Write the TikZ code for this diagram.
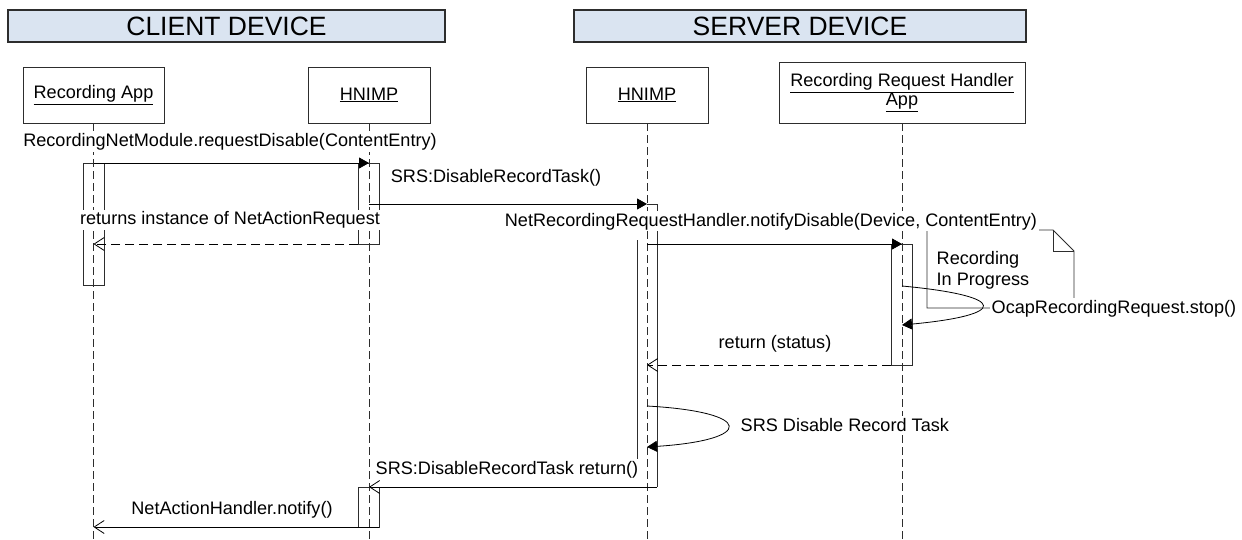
\documentclass[tikz,border=0pt]{standalone}
\usepackage{fontspec}
\setmainfont{Liberation Sans}
\usetikzlibrary{arrows.meta}
\definecolor{hdrfill}{RGB}{218,228,241}
\definecolor{edge}{RGB}{45,45,45}

\begin{document}
\begin{tikzpicture}[x=1pt,y=-1pt,
  every node/.style={font=\fontsize{18.1}{20.5}\selectfont, inner sep=1.5pt},
  header/.style={draw=edge, line width=1.2pt, fill=hdrfill, minimum height=32pt,
    font=\fontsize{26.5}{29}\selectfont},
  objbox/.style={draw=edge, line width=0.8pt, fill=white, align=center},
  lifeline/.style={draw=edge, line width=0.8pt, dash pattern=on 8pt off 4pt},
  actbar/.style={draw=edge, line width=0.8pt},
  call/.style={draw=black, line width=0.8pt, -{Triangle[length=10pt,width=11pt]}},
  reply/.style={draw=black, line width=0.8pt, dash pattern=on 9pt off 5pt,
    -{Straight Barb[length=10pt,width=13pt]}},
  sendback/.style={draw=black, line width=0.8pt, -{Straight Barb[length=10pt,width=13pt]}},
  msglabel/.style={fill=white, anchor=base},
  notebox/.style={draw=edge, line width=0.8pt},
]
\useasboundingbox (0,0) rectangle (1242,540);

% device headers
\node[header, minimum width=437pt] (client) at (226.5,26) {CLIENT DEVICE};
\node[header, minimum width=452pt] (server) at (800,26) {SERVER DEVICE};

% participants
\node[objbox, minimum width=141pt, minimum height=56pt] (ra) at (93.5,95) {\underline{Recording App}};
\node[objbox, minimum width=122pt, minimum height=56pt] (hc) at (369,95) {\underline{HNIMP}};
\node[objbox, minimum width=122pt, minimum height=56pt] (hs) at (647,95) {\underline{HNIMP}};
\node[objbox, minimum width=246pt, minimum height=61pt] (rh) at (902,92.5)
  {\underline{Recording Request Handler}\\[-1.5pt]\underline{App}};

% lifeline ends
\coordinate (raEnd) at (ra.south |- 0,540);
\coordinate (hcEnd) at (hc.south |- 0,540);
\coordinate (hsEnd) at (hs.south |- 0,540);
\coordinate (rhEnd) at (rh.south |- 0,540);
\draw[lifeline] (ra.south) -- (raEnd);
\draw[lifeline] (hc.south) -- (hcEnd);
\draw[lifeline] (hs.south) -- (hsEnd);
\draw[lifeline] (rh.south) -- (rhEnd);

% activation bars
\draw[actbar] (83,163) rectangle (104,285);
\draw[actbar] (358,163) rectangle (379,244);
\draw[actbar] (358,487) rectangle (379,527);
\draw[actbar] (891,244) rectangle (912,365);
\draw[actbar] (647,204) -- (657,204) -- (657,487);
\draw[actbar] (637,240) -- (637,478);

% note
\coordinate (nA) at (927,230);
\coordinate (nB) at (1053,230);
\coordinate (nC) at (1074,251);
\coordinate (nD) at (1074,308);
\coordinate (nE) at (927,308);
\coordinate (nF) at (1053,251);
\draw[notebox] (nA) -- (nB) -- (nC) -- (nD) -- (nE) -- cycle;
\draw[notebox] (nB) -- (nF) -- (nC);
\node[anchor=base west, align=left] (noteText) at (935,285) {Recording\\[0pt]In Progress};

% message end points
\coordinate (m1a) at (ra.south |- 0,163);
\coordinate (m1b) at (hc.south |- 0,163);
\coordinate (m2a) at (hc.south |- 0,204);
\coordinate (m2b) at (hs.south |- 0,204);
\coordinate (m3a) at (hs.south |- 0,244);
\coordinate (m3b) at (rh.south |- 0,244);
\coordinate (r1a) at (358,244);
\coordinate (r1b) at (ra.south |- 0,244);
\coordinate (s1a) at (rh.south |- 0,286);
\coordinate (s1b) at (rh.south |- 0,325);
\coordinate (r2a) at (891,365);
\coordinate (r2b) at (hs.south |- 0,365);
\coordinate (s2a) at (hs.south |- 0,406);
\coordinate (s2b) at (hs.south |- 0,447);
\coordinate (m6a) at (657,487);
\coordinate (m6b) at (hc.south |- 0,487);
\coordinate (m7a) at (379,527);
\coordinate (m7b) at (ra.south |- 0,527);

% messages
\draw[call] (m1a) -- (m1b);
\draw[call] (m2a) -- (m2b);
\draw[reply] (r1a) -- (r1b);
\draw[call] (m3a) -- (m3b);
\draw[call] (s1a) .. controls (1009,296) and (1009,315) .. (s1b);
\draw[reply] (r2a) -- (r2b);
\draw[call] (s2a) .. controls (755,412) and (755,440) .. (s2b);
\draw[sendback] (m6a) -- (m6b);
\draw[sendback] (m7a) -- (m7b);

% message labels
\node[msglabel] (l1) at (230,147) {RecordingNetModule.requestDisable(ContentEntry)};
\node[msglabel] (l2) at (496,183) {SRS:DisableRecordTask()};
\node[msglabel] (l3) at (230,225) {returns instance of NetActionRequest};
\node[msglabel] (l4) at (771,226) {NetRecordingRequestHandler.notifyDisable(Device, ContentEntry)};
\node[msglabel, anchor=base west] (l5) at (990,313) {OcapRecordingRequest.stop()};
\node[msglabel] (l6) at (775,348) {return (status)};
\node[msglabel, anchor=base west] (l7) at (739,431) {SRS Disable Record Task};
\node[msglabel] (l8) at (507,474) {SRS:DisableRecordTask return()};
\node[msglabel] (l9) at (232,514) {NetActionHandler.notify()};
\end{tikzpicture}
\end{document}
